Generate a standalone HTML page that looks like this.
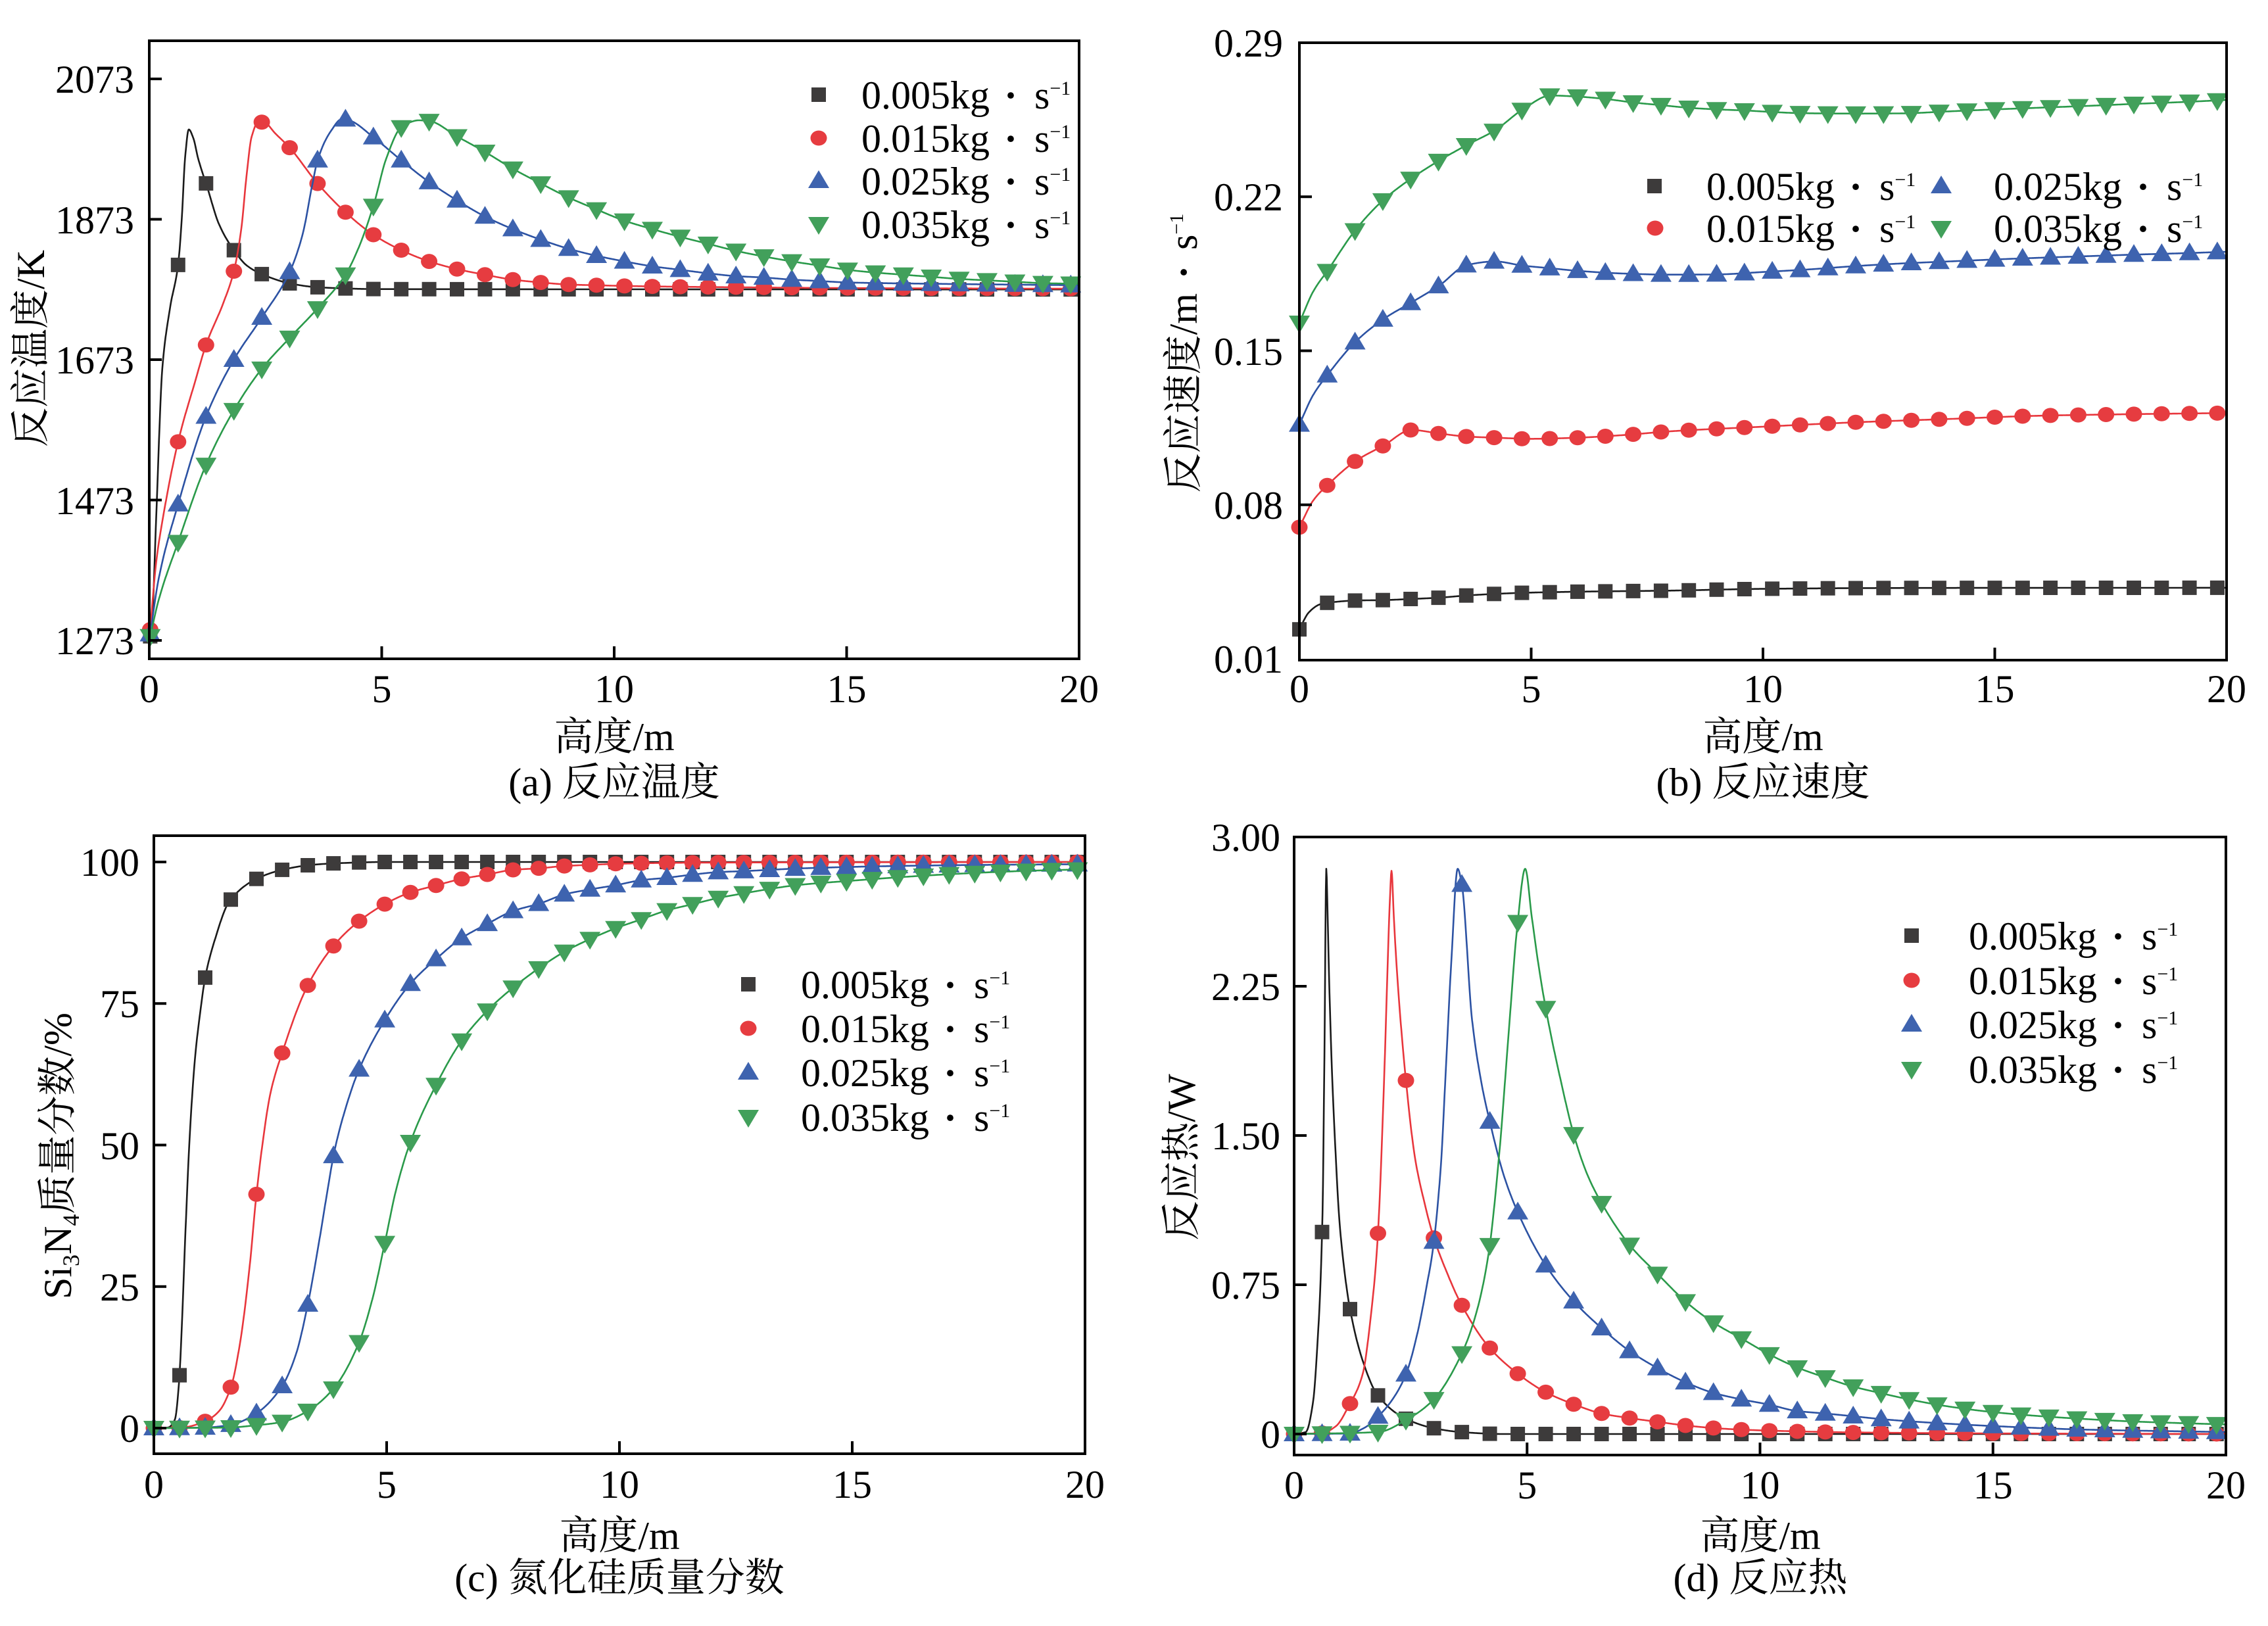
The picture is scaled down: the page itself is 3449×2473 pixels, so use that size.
<!DOCTYPE html>
<html><head><meta charset="utf-8">
<style>html,body{margin:0;padding:0;background:#fff}svg{display:block}</style>
</head><body>
<svg id="s" width="3449" height="2473" viewBox="0 0 3449 2473" xmlns="http://www.w3.org/2000/svg" font-family="'Liberation Serif','Noto Serif CJK SC',serif" font-size="60" fill="#000">
<rect width="3449" height="2473" fill="#fff"/>
<g id="plots"></g>
<!-- frames -->
<g fill="none" stroke="#000" stroke-width="4">
<rect x="227" y="62" width="1414" height="940"/>
<rect x="1976" y="65" width="1410" height="939"/>
<rect x="234" y="1271" width="1416" height="940"/>
<rect x="1968" y="1273" width="1417" height="940"/>
</g>
<!-- ticks -->
<g stroke="#000" stroke-width="4">
<path d="M580.5 1002V983M934 1002V983M1287.5 1002V983M227 974H246M227 760.5H246M227 547H246M227 333.5H246M227 120H246"/>
<path d="M2328.5 1004V985M2681 1004V985M3033.5 1004V985M1976 767.8H1995M1976 533.5H1995M1976 299.3H1995"/>
<path d="M588 2211V2192M942 2211V2192M1296 2211V2192M234 2172H253M234 1956.75H253M234 1741.5H253M234 1526.25H253M234 1311H253"/>
<path d="M2322.25 2213V2194M2676.5 2213V2194M3030.75 2213V2194M1968 2181H1987M1968 1954H1987M1968 1727H1987M1968 1500H1987"/>
</g>
<!-- panel a text -->
<g text-anchor="end">
<text x="204" y="995">1273</text><text x="204" y="782">1473</text><text x="204" y="568">1673</text><text x="204" y="355">1873</text><text x="204" y="141">2073</text>
</g>
<g text-anchor="middle">
<text x="227" y="1068">0</text><text x="580.5" y="1068">5</text><text x="934" y="1068">10</text><text x="1287.5" y="1068">15</text><text x="1641" y="1068">20</text>
<text x="934" y="1141">高度/m</text>
<text x="934" y="1210">(a) 反应温度</text>
<text transform="translate(67,530) rotate(-90)">反应温度/K</text>
</g>
<!-- panel b text -->
<g text-anchor="end">
<text x="1951" y="1023">0.01</text><text x="1951" y="789">0.08</text><text x="1951" y="555">0.15</text><text x="1951" y="320">0.22</text><text x="1951" y="86">0.29</text>
</g>
<g text-anchor="middle">
<text x="1976" y="1068">0</text><text x="2328.5" y="1068">5</text><text x="2681" y="1068">10</text><text x="3033.5" y="1068">15</text><text x="3386" y="1068">20</text>
<text x="2681" y="1141">高度/m</text>
<text x="2681" y="1210">(b) 反应速度</text>
<text transform="translate(1820,537) rotate(-90)">反应速度/m<tspan dx="22" font-weight="bold">·</tspan><tspan dx="24">s</tspan><tspan dy="-21" font-size="30">−1</tspan></text>
</g>
<!-- panel c text -->
<g text-anchor="end">
<text x="212" y="2193">0</text><text x="212" y="1978">25</text><text x="212" y="1763">50</text><text x="212" y="1547">75</text><text x="212" y="1332">100</text>
</g>
<g text-anchor="middle">
<text x="234" y="2278">0</text><text x="588" y="2278">5</text><text x="942" y="2278">10</text><text x="1296" y="2278">15</text><text x="1650" y="2278">20</text>
<text x="942" y="2356">高度/m</text>
<text x="942" y="2420">(c) 氮化硅质量分数</text>
<text transform="translate(108,1758) rotate(-90)">Si<tspan dy="12" font-size="36">3</tspan><tspan dy="-12">N</tspan><tspan dy="12" font-size="36">4</tspan><tspan dy="-12">质量分数/%</tspan></text>
</g>
<!-- panel d text -->
<g text-anchor="end">
<text x="1947" y="2202">0</text><text x="1947" y="1975">0.75</text><text x="1947" y="1748">1.50</text><text x="1947" y="1521">2.25</text><text x="1947" y="1294">3.00</text>
</g>
<g text-anchor="middle">
<text x="1968" y="2279">0</text><text x="2322.25" y="2279">5</text><text x="2676.5" y="2279">10</text><text x="3030.75" y="2279">15</text><text x="3385" y="2279">20</text>
<text x="2677" y="2356">高度/m</text>
<text x="2677" y="2420">(d) 反应热</text>
<text transform="translate(1817,1760) rotate(-90)">反应热/W</text>
</g>

<!-- legends: markers -->
<g>
<rect x="1234" y="133" width="22" height="22" fill="#3d3b3b"/>
<ellipse cx="1245" cy="210" rx="12.5" ry="11.5" fill="#e63c40"/>
<polygon points="1245,259 1261,286 1229,286" fill="#3e63af"/>
<polygon points="1229,330 1261,330 1245,357" fill="#42a05b"/>
<rect x="2505" y="272" width="22" height="22" fill="#3d3b3b"/>
<ellipse cx="2517" cy="347" rx="12.5" ry="11.5" fill="#e63c40"/>
<polygon points="2952,267 2968,294 2936,294" fill="#3e63af"/>
<polygon points="2936,336 2968,336 2952,363" fill="#42a05b"/>
<rect x="1127" y="1486" width="22" height="22" fill="#3d3b3b"/>
<ellipse cx="1138" cy="1564" rx="12.5" ry="11.5" fill="#e63c40"/>
<polygon points="1138,1615 1154,1642 1122,1642" fill="#3e63af"/>
<polygon points="1122,1688 1154,1688 1138,1715" fill="#42a05b"/>
<rect x="2896" y="1412" width="22" height="22" fill="#3d3b3b"/>
<ellipse cx="2907" cy="1491" rx="12.5" ry="11.5" fill="#e63c40"/>
<polygon points="2907,1542 2923,1569 2891,1569" fill="#3e63af"/>
<polygon points="2891,1615 2923,1615 2907,1642" fill="#42a05b"/>
</g>
<!-- legend texts -->
<g>
<text x="1310" y="165">0.005kg<tspan dx="22" font-weight="bold">·</tspan><tspan dx="26">s</tspan><tspan dy="-21" font-size="30">−1</tspan></text>
<text x="1310" y="231">0.015kg<tspan dx="22" font-weight="bold">·</tspan><tspan dx="26">s</tspan><tspan dy="-21" font-size="30">−1</tspan></text>
<text x="1310" y="296">0.025kg<tspan dx="22" font-weight="bold">·</tspan><tspan dx="26">s</tspan><tspan dy="-21" font-size="30">−1</tspan></text>
<text x="1310" y="362">0.035kg<tspan dx="22" font-weight="bold">·</tspan><tspan dx="26">s</tspan><tspan dy="-21" font-size="30">−1</tspan></text>

<text x="2595" y="304">0.005kg<tspan dx="22" font-weight="bold">·</tspan><tspan dx="26">s</tspan><tspan dy="-21" font-size="30">−1</tspan></text>
<text x="2595" y="368">0.015kg<tspan dx="22" font-weight="bold">·</tspan><tspan dx="26">s</tspan><tspan dy="-21" font-size="30">−1</tspan></text>
<text x="3032" y="304">0.025kg<tspan dx="22" font-weight="bold">·</tspan><tspan dx="26">s</tspan><tspan dy="-21" font-size="30">−1</tspan></text>
<text x="3032" y="368">0.035kg<tspan dx="22" font-weight="bold">·</tspan><tspan dx="26">s</tspan><tspan dy="-21" font-size="30">−1</tspan></text>

<text x="1218" y="1518">0.005kg<tspan dx="22" font-weight="bold">·</tspan><tspan dx="26">s</tspan><tspan dy="-21" font-size="30">−1</tspan></text>
<text x="1218" y="1585">0.015kg<tspan dx="22" font-weight="bold">·</tspan><tspan dx="26">s</tspan><tspan dy="-21" font-size="30">−1</tspan></text>
<text x="1218" y="1652">0.025kg<tspan dx="22" font-weight="bold">·</tspan><tspan dx="26">s</tspan><tspan dy="-21" font-size="30">−1</tspan></text>
<text x="1218" y="1720">0.035kg<tspan dx="22" font-weight="bold">·</tspan><tspan dx="26">s</tspan><tspan dy="-21" font-size="30">−1</tspan></text>

<text x="2994" y="1444">0.005kg<tspan dx="22" font-weight="bold">·</tspan><tspan dx="26">s</tspan><tspan dy="-21" font-size="30">−1</tspan></text>
<text x="2994" y="1512">0.015kg<tspan dx="22" font-weight="bold">·</tspan><tspan dx="26">s</tspan><tspan dy="-21" font-size="30">−1</tspan></text>
<text x="2994" y="1579">0.025kg<tspan dx="22" font-weight="bold">·</tspan><tspan dx="26">s</tspan><tspan dy="-21" font-size="30">−1</tspan></text>
<text x="2994" y="1647">0.035kg<tspan dx="22" font-weight="bold">·</tspan><tspan dx="26">s</tspan><tspan dy="-21" font-size="30">−1</tspan></text>
</g>
</svg>
<script>
(function(){
function pchip(pts){
  var n=pts.length,xs=[],ys=[],h=[],d=[],m=[],i;
  for(i=0;i<n;i++){xs.push(pts[i][0]);ys.push(pts[i][1]);}
  for(i=0;i<n-1;i++){h[i]=xs[i+1]-xs[i];d[i]=(ys[i+1]-ys[i])/h[i];}
  m[0]=d[0];m[n-1]=d[n-2];
  for(i=1;i<n-1;i++){
    if(d[i-1]*d[i]<=0)m[i]=0;
    else{var w1=2*h[i]+h[i-1],w2=h[i]+2*h[i-1];m[i]=(w1+w2)/(w1/d[i-1]+w2/d[i]);}
  }
  return function(x){
    if(x<=xs[0])return ys[0];if(x>=xs[n-1])return ys[n-1];
    var j=0;while(x>xs[j+1])j++;
    var t=(x-xs[j])/h[j],t2=t*t,t3=t2*t;
    return (2*t3-3*t2+1)*ys[j]+(t3-2*t2+t)*h[j]*m[j]+(-2*t3+3*t2)*ys[j+1]+(t3-t2)*h[j]*m[j+1];
  };
}
var MF={k:'#3d3b3b',r:'#e63c40',b:'#3e63af',g:'#42a05b'};
var LC={k:'#1a1a1a',r:'#e8363c',b:'#2c52a3',g:'#2a9a4a'};
var SH={k:'sq',r:'ci',b:'up',g:'dn'};
function mk(t,x,y,c){
  x=x.toFixed(1);y=+y;
  if(t==='sq')return '<rect x="'+(x-11)+'" y="'+(y-11).toFixed(1)+'" width="22" height="22" fill="'+c+'"/>';
  if(t==='ci')return '<ellipse cx="'+x+'" cy="'+y.toFixed(1)+'" rx="12.5" ry="11.5" fill="'+c+'"/>';
  x=+x;
  if(t==='up')return '<polygon points="'+x+','+(y-16).toFixed(1)+' '+(x+16)+','+(y+11).toFixed(1)+' '+(x-16)+','+(y+11).toFixed(1)+'" fill="'+c+'"/>';
  return '<polygon points="'+(x-16)+','+(y-11).toFixed(1)+' '+(x+16)+','+(y-11).toFixed(1)+' '+x+','+(y+16).toFixed(1)+'" fill="'+c+'"/>';
}
var P=[
{X:function(h){return 227+h*70.7},Y:function(v){return 974-(v-1273)*1.0675},M:function(k){return 0.6*k+0.02},n:34,S:{
k:[[0,1273],[0.05,1290],[0.15,1450],[0.28,1660],[0.45,1748],[0.62,1808],[0.7,1875],[0.77,1960],[0.85,2001],[0.95,1988],[1.05,1960],[1.25,1918],[1.5,1866],[1.83,1828],[2.1,1807],[2.45,1794],[3.07,1781],[3.65,1776],[5,1773.5],[20,1773]],
r:[[0,1273],[0.15,1385],[0.3,1450],[0.62,1556],[1.0,1645],[1.22,1694],[1.6,1755],[1.82,1799],[1.98,1860],[2.1,1940],[2.2,1990],[2.35,2012],[2.5,2010],[2.7,1996],[3.02,1975],[3.62,1924],[4.22,1883],[4.82,1851],[5.42,1829],[6.02,1813],[6.62,1802],[7.22,1794],[7.82,1787],[8.42,1783],[9.02,1780],[9.62,1779],[10.22,1778],[12,1776.5],[15,1775],[20,1774]],
b:[[0,1273],[0.2,1360],[0.62,1467],[1.22,1592],[1.82,1673],[2.42,1733],[3.02,1798],[3.3,1852],[3.5,1920],[3.62,1957],[3.9,1998],[4.15,2016],[4.3,2014],[4.82,1990],[5.42,1957],[6.02,1926],[6.62,1900],[7.22,1877],[7.82,1859],[8.42,1844],[9.02,1831],[9.62,1821],[10.22,1813],[10.82,1806],[11.42,1801],[12.02,1796],[12.62,1792],[13.22,1790],[13.82,1787],[14.42,1785],[15.02,1783],[17,1781],[20,1779]],
g:[[0,1273],[0.2,1330],[0.62,1413],[1.22,1523],[1.82,1601],[2.42,1660],[3.02,1704],[3.62,1746],[4.22,1794],[4.5,1832],[4.82,1892],[5.1,1960],[5.42,2004],[5.8,2014],[6.02,2013],[6.62,1991],[7.22,1969],[7.82,1945],[8.42,1924],[9.02,1904],[9.62,1887],[10.22,1871],[10.82,1859],[11.42,1848],[12.02,1838],[12.62,1828],[13.22,1820],[13.82,1813],[14.42,1807],[15.02,1801],[15.62,1797],[16.22,1794],[16.82,1791],[17.42,1788],[18.02,1786],[18.62,1784],[19.22,1782],[20,1781]]
}},
{X:function(h){return 1976+h*70.5},Y:function(v){return 1002-(v-0.01)*3346.4},M:function(k){return 0.6*k},n:34,S:{
k:[[0,0.0234],[0.2,0.031],[0.45,0.0348],[0.62,0.0355],[1.22,0.0365],[1.82,0.0367],[2.42,0.0372],[3.02,0.0378],[3.62,0.0388],[4.22,0.0395],[4.82,0.040],[6,0.0405],[8,0.041],[10,0.0418],[13,0.0422],[20,0.0423]],
r:[[0,0.0698],[0.3,0.082],[0.62,0.0892],[1.22,0.100],[1.82,0.107],[2.42,0.114],[3.02,0.1124],[3.62,0.111],[4.22,0.1105],[5,0.110],[6,0.1105],[7,0.1117],[8,0.1134],[10,0.1155],[12,0.1175],[14,0.119],[16,0.1205],[18,0.1212],[20,0.1217]],
b:[[0,0.1165],[0.3,0.13],[0.62,0.1394],[1.22,0.1543],[1.82,0.1645],[2.42,0.172],[3.02,0.1797],[3.62,0.189],[4.22,0.1906],[4.82,0.1887],[5.42,0.1875],[6.02,0.1863],[7,0.1851],[8,0.1846],[9,0.1847],[10,0.1858],[11,0.187],[12,0.1885],[13,0.1897],[14,0.1906],[15,0.1915],[16,0.1923],[17,0.193],[18,0.1937],[19,0.1943],[20,0.195]],
g:[[0,0.1627],[0.3,0.177],[0.62,0.1868],[1.22,0.2052],[1.82,0.2187],[2.42,0.2284],[3.02,0.2365],[3.62,0.2436],[4.22,0.2502],[4.82,0.2597],[5.42,0.266],[6.02,0.2655],[6.62,0.2644],[7.22,0.2628],[7.82,0.2616],[8.42,0.2604],[9.02,0.2597],[9.62,0.2592],[10.22,0.2585],[10.82,0.258],[12,0.2578],[13,0.2579],[14,0.2588],[15,0.2597],[16,0.2605],[17,0.2613],[18,0.2622],[19,0.263],[20,0.264]]
}},
{X:function(h){return 234+h*70.8},Y:function(v){return 2172-v*8.61},M:function(k){return 0.551*k},n:37,S:{
k:[[0,0],[0.3,0.1],[0.45,1.5],[0.54,8],[0.6,18],[0.68,35],[0.76,50],[0.88,65],[1.02,75],[1.1,79.5],[1.3,86],[1.62,93],[2.2,97],[2.8,98.7],[3.4,99.5],[4,99.8],[5,100],[20,100]],
r:[[0,0],[0.6,0.1],[1.1,1.2],[1.4,3],[1.66,7.4],[1.85,15],[2.05,28],[2.2,41],[2.33,50],[2.5,59],[2.76,66.4],[3.3,78.1],[3.87,85.3],[4.4,89.5],[4.97,92.6],[5.5,94.6],[6.08,95.9],[6.6,97],[7.17,97.8],[7.7,98.6],[8.3,98.9],[8.83,99.3],[9.4,99.5],[10,99.7],[12,99.9],[20,100]],
b:[[0,0],[1.1,0.1],[1.66,0.6],[2.2,2.6],[2.76,7.5],[3.05,13],[3.3,21.6],[3.55,33],[3.75,43],[3.87,48.6],[4.1,56],[4.4,63.2],[4.97,72.2],[5.5,78.4],[6.08,83],[6.6,86.5],[7.17,89.1],[7.7,91.3],[8.3,92.7],[8.83,94.3],[9.4,95.2],[9.92,95.9],[10.48,96.8],[11,97.2],[11.6,97.8],[12.1,98.2],[12.7,98.4],[14,98.9],[16,99.3],[18,99.5],[20,99.6]],
g:[[0,0],[1.6,0.1],[2.2,0.5],[2.76,1.1],[3.3,3],[3.87,7.1],[4.4,15],[4.7,23],[4.97,33.1],[5.2,42],[5.5,50.3],[6.08,60.9],[6.6,68.3],[7.17,73.8],[7.7,77.7],[8.3,81.4],[8.83,84.2],[9.4,86.5],[9.92,88.3],[10.48,89.9],[11,91.4],[11.6,92.6],[12.1,93.6],[12.7,94.5],[13.2,95.2],[13.8,95.9],[15,96.7],[16,97.3],[17,97.8],[18,98.2],[19,98.5],[20,98.7]]
}},
{X:function(h){return 1968+h*70.85},Y:function(v){return 2181-v*302.7},M:function(k){return 0.6*k},n:34,S:{
k:[[0,0],[0.25,0.01],[0.4,0.15],[0.5,0.45],[0.61,1.11],[0.65,1.9],[0.69,2.84],[0.72,2.6],[0.75,2.3],[0.8,1.9],[0.86,1.56],[0.97,1.08],[1.08,0.82],[1.19,0.64],[1.47,0.37],[1.78,0.2],[2.37,0.08],[2.98,0.03],[3.57,0.01],[4.5,0],[20,0]],
r:[[0,0],[0.6,0.005],[0.9,0.04],[1.17,0.14],[1.47,0.3],[1.65,0.6],[1.79,0.97],[1.92,1.7],[2.0,2.3],[2.05,2.65],[2.09,2.83],[2.14,2.6],[2.2,2.35],[2.39,1.8],[2.6,1.38],[2.8,1.16],[2.98,1.0],[3.3,0.8],[3.57,0.66],[4.17,0.44],[4.79,0.305],[5.4,0.21],[6.02,0.148],[6.6,0.103],[7.2,0.08],[7.8,0.061],[8.4,0.043],[9.0,0.03],[9.6,0.022],[10.2,0.017],[12,0.008],[15,0.003],[20,0]],
b:[[0,0],[1.19,0.003],[1.5,0.03],[1.81,0.09],[2.1,0.17],[2.4,0.3],[2.64,0.5],[2.85,0.75],[2.98,0.93],[3.15,1.35],[3.26,1.85],[3.38,2.4],[3.51,2.84],[3.6,2.76],[3.82,2.08],[4.04,1.74],[4.19,1.58],[4.5,1.3],[4.79,1.12],[5.38,0.855],[6.0,0.667],[6.6,0.532],[7.2,0.417],[7.8,0.331],[8.4,0.26],[8.98,0.208],[9.6,0.174],[10.19,0.148],[10.78,0.116],[11.4,0.103],[11.97,0.09],[12.6,0.075],[13.2,0.064],[15,0.04],[17,0.022],[20,0.01]],
g:[[0,0],[1.81,0.01],[2.4,0.07],[2.98,0.17],[3.57,0.39],[3.9,0.6],[4.17,0.9],[4.4,1.4],[4.6,2.0],[4.79,2.55],[4.96,2.84],[5.1,2.6],[5.25,2.35],[5.4,2.14],[5.7,1.8],[6.02,1.49],[6.3,1.3],[6.6,1.16],[7.2,0.95],[7.84,0.795],[8.43,0.66],[9.0,0.56],[9.6,0.48],[10.2,0.40],[10.78,0.336],[11.4,0.284],[11.97,0.24],[12.6,0.205],[13.2,0.174],[14,0.14],[15,0.11],[16,0.09],[17,0.075],[18,0.063],[19,0.055],[20,0.048]]
}}
];
var out='';
P.forEach(function(p){
  ['k','r','b','g'].forEach(function(s){
    var pts=p.S[s],f=pchip(pts);
    var xs=[];for(var i=0;i<=2000;i++)xs.push(i*0.01);
    pts.forEach(function(q){xs.push(q[0]);});
    xs.sort(function(a,b){return a-b});
    var d='',last=-1;
    xs.forEach(function(x){if(x-last<1e-6)return;last=x;d+=(d?'L':'M')+p.X(x).toFixed(1)+' '+p.Y(f(x)).toFixed(1);});
    out+='<path d="'+d+'" fill="none" stroke="'+LC[s]+'" stroke-width="2.6" stroke-linejoin="round"/>';
    for(var k=0;k<p.n;k++){var h=p.M(k);if(h>20)break;out+=mk(SH[s],p.X(h),p.Y(f(h)),MF[s]);}
  });
});
document.getElementById('plots').innerHTML=out;
})();
</script>
</body></html>
